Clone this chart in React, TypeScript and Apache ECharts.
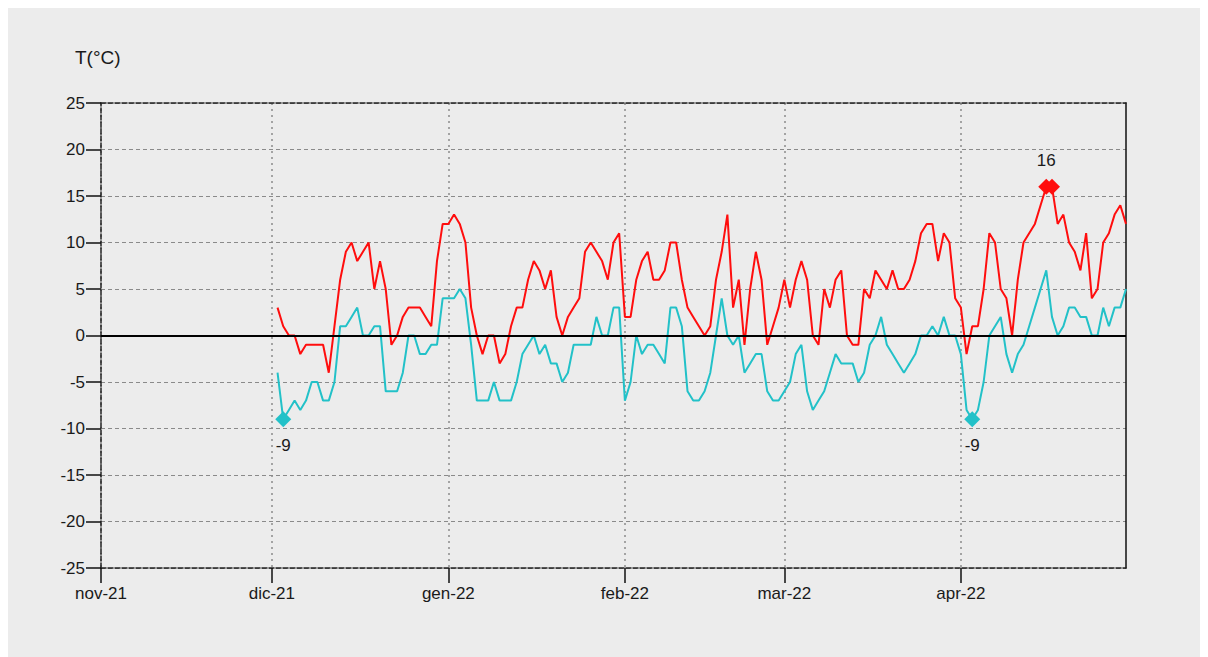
import React, { useEffect, useRef } from "react";
import * as echarts from "echarts";

const axisStart = "2021-11-01";
const axisEnd = "2022-04-30";
const seriesStart = "2021-12-02";
const monthLabels: Record<string, string> = { "11": "nov", "12": "dic", "01": "gen", "02": "feb", "03": "mar", "04": "apr" };
const yMin = -25;
const yMax = 25;
const yStep = 5;
const yName = "T(°C)";

// Daily maximum temperature, from 2 Dec 2021 to 30 Apr 2022
const tMax = [
  // Dec 2-31
  3, 1, 0, 0, -2, -1, -1, -1, -1, -4, 1, 6, 9, 10, 8, 9, 10, 5, 8, 5, -1, 0, 2, 3, 3, 3, 2, 1, 8, 12,
  // Jan
  12, 13, 12, 10, 3, 0, -2, 0, 0, -3, -2, 1, 3, 3, 6, 8, 7, 5, 7, 2, 0, 2, 3, 4, 9, 10, 9, 8, 6, 10, 11,
  // Feb
  2, 2, 6, 8, 9, 6, 6, 7, 10, 10, 6, 3, 2, 1, 0, 1, 6, 9, 13, 3, 6, -1, 5, 9, 6, -1, 1, 3,
  // Mar
  6, 3, 6, 8, 6, 0, -1, 5, 3, 6, 7, 0, -1, -1, 5, 4, 7, 6, 5, 7, 5, 5, 6, 8, 11, 12, 12, 8, 11, 10, 4,
  // Apr
  3, -2, 1, 1, 5, 11, 10, 5, 4, 0, 6, 10, 11, 12, 14, 16, 16, 12, 13, 10, 9, 7, 11, 4, 5, 10, 11, 13, 14, 12,
];

// Daily minimum temperature, same days
const tMin = [
  // Dec 2-31
  -4, -9, -8, -7, -8, -7, -5, -5, -7, -7, -5, 1, 1, 2, 3, 0, 0, 1, 1, -6, -6, -6, -4, 0, 0, -2, -2, -1, -1, 4,
  // Jan
  4, 4, 5, 4, -1, -7, -7, -7, -5, -7, -7, -7, -5, -2, -1, 0, -2, -1, -3, -3, -5, -4, -1, -1, -1, -1, 2, 0, 0, 3, 3,
  // Feb
  -7, -5, 0, -2, -1, -1, -2, -3, 3, 3, 1, -6, -7, -7, -6, -4, 0, 4, 0, -1, 0, -4, -3, -2, -2, -6, -7, -7,
  // Mar
  -6, -5, -2, -1, -6, -8, -7, -6, -4, -2, -3, -3, -3, -5, -4, -1, 0, 2, -1, -2, -3, -4, -3, -2, 0, 0, 1, 0, 2, 0, 0,
  // Apr
  -2, -8, -9, -8, -5, 0, 1, 2, -2, -4, -2, -1, 1, 3, 5, 7, 2, 0, 1, 3, 3, 2, 2, 0, 0, 3, 1, 3, 3, 5,
];

const RED = "#ff0d0d";
const CYAN = "#22c1c8";
const FONT = "'Liberation Sans', Arial, sans-serif";
const TEXT = "#1a1a1a";

function buildDays(start: string, end: string): string[] {
  const out: string[] = [];
  let d = new Date(start + "T00:00:00Z").getTime();
  const e = new Date(end + "T00:00:00Z").getTime();
  while (d <= e) {
    out.push(new Date(d).toISOString().slice(0, 10));
    d += 86400000;
  }
  return out;
}

const days = buildDays(axisStart, axisEnd);
const offset = days.indexOf(seriesStart);
const isMonthStart = (_i: number, v: string) => typeof v === "string" && v.slice(8, 10) === "01";
const monthFormatter = (v: string) => `${monthLabels[v.slice(5, 7)]}-${v.slice(2, 4)}`;

function extremePoints(vals: number[], useMax: boolean, pos: "top" | "bottom") {
  const ext = useMax ? Math.max(...vals) : Math.min(...vals);
  const idxs = vals.map((v, i) => (v === ext ? i : -1)).filter((i) => i >= 0);
  return idxs.map((i, k) => ({
    coord: [offset + i, ext],
    value: ext,
    label: {
      show: k === 0 || i - idxs[k - 1] > 1,
      position: pos,
      distance: 10,
      color: TEXT,
      fontSize: 17,
      fontFamily: FONT,
      formatter: "{c}",
    },
  }));
}

const W = 1230;
const H = 680;

export default function App() {
  const ref = useRef<HTMLDivElement>(null);

  useEffect(() => {
    document.documentElement.style.overflow = "hidden";
    document.body.style.overflow = "hidden";
    if (!ref.current) return;
    const chart = echarts.init(ref.current, undefined, { renderer: "svg" });
    const dashedDark = { color: "#222", type: [5, 2] as number[], width: 1.5 };
    chart.setOption({
      animation: false,
      backgroundColor: "#ececec",
      textStyle: { fontFamily: FONT },
      graphic: [
        {
          type: "text",
          left: 67,
          top: 40,
          style: { text: yName, fontSize: 19, fill: TEXT, fontFamily: FONT },
        },
      ],
      grid: { left: 93, right: W + 8 - 1126, top: 95, bottom: H + 8 - 568, containLabel: false },
      xAxis: [
        {
          type: "category",
          data: days,
          boundaryGap: false,
          axisLine: { show: true, onZero: false, lineStyle: dashedDark },
          axisTick: { show: true, interval: isMonthStart, length: 15, lineStyle: { color: "#111", width: 1.5 } },
          axisLabel: {
            interval: isMonthStart,
            formatter: monthFormatter,
            fontSize: 17,
            color: TEXT,
            margin: 17,
            fontFamily: FONT,
          },
          splitLine: { show: true, interval: isMonthStart, lineStyle: { color: "#8a8a8a", type: [2, 4], width: 1.5 } },
        },
        {
          type: "category",
          data: days,
          position: "top",
          boundaryGap: false,
          axisLine: { show: true, onZero: false, lineStyle: dashedDark },
          axisTick: { show: false },
          axisLabel: { show: false },
          splitLine: { show: false },
        },
      ],
      yAxis: [
        {
          type: "value",
          min: yMin,
          max: yMax,
          interval: yStep,
          axisLine: { show: true, onZero: false, lineStyle: dashedDark },
          axisTick: { show: true, length: 15, lineStyle: { color: "#111", width: 1.5 } },
          axisLabel: { fontSize: 17, color: TEXT, margin: 16, fontFamily: FONT },
          splitLine: { show: true, lineStyle: { color: "#8a8a8a", type: [4, 3], width: 1.2 } },
        },
        {
          type: "value",
          min: yMin,
          max: yMax,
          interval: yStep,
          position: "right",
          axisLine: { show: true, onZero: false, lineStyle: { color: "#111", width: 1.5 } },
          axisTick: { show: false },
          axisLabel: { show: false },
          splitLine: { show: false },
        },
      ],
      series: [
        {
          name: "Tmin",
          type: "line",
          data: tMin.map((v, i) => [offset + i, v]),
          showSymbol: false,
          symbol: "none",
          lineStyle: { color: CYAN, width: 2 },
          itemStyle: { color: CYAN },
          z: 3,
          markPoint: {
            symbol: "diamond",
            symbolSize: 16,
            itemStyle: { color: CYAN },
            data: extremePoints(tMin, false, "bottom"),
          },
        },
        {
          name: "Tmax",
          type: "line",
          data: tMax.map((v, i) => [offset + i, v]),
          showSymbol: false,
          symbol: "none",
          lineStyle: { color: RED, width: 2 },
          itemStyle: { color: RED },
          z: 4,
          markLine: {
            silent: true,
            symbol: ["none", "none"],
            label: { show: false },
            lineStyle: { color: "#000", type: "solid", width: 2 },
            data: [{ yAxis: 0 }],
          },
          markPoint: {
            symbol: "diamond",
            symbolSize: 16,
            itemStyle: { color: RED },
            data: extremePoints(tMax, true, "top"),
          },
        },
      ],
    });
    return () => chart.dispose();
  }, []);

  return <div ref={ref} style={{ width: W, height: H, background: "#ececec" }} />;
}
